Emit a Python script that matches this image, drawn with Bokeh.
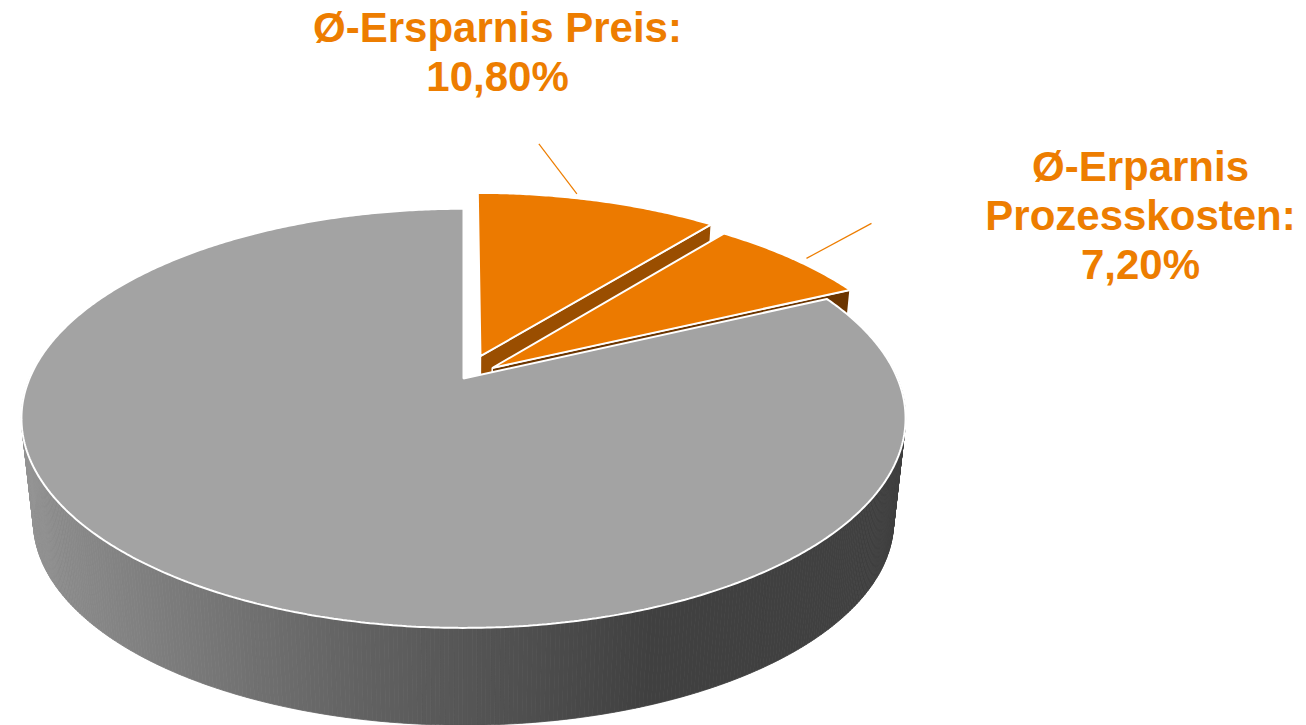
import numpy as np
from bokeh.plotting import figure
from bokeh.models import Range1d
from bokeh.core.properties import value
from bokeh.embed import file_html
from bokeh.resources import INLINE

# ---------------- data ----------------
categories = ["Ø-Ersparnis Preis", "Ø-Erparnis Prozesskosten", "Übrige"]
shares = [10.80, 7.20, 82.00]
label_titles = ["Ø-Ersparnis Preis:", "Ø-Erparnis\nProzesskosten:"]
labelled = [0, 1]

# ---------------- layout / style ----------------
W, H = 1306, 725
CX, CY = 463, 378
RX, RY, PERSP = 434, 202, 0.19
BOT_SCALE, DEPTH = 0.973, 104
EXPLODE = [0.12, 0.085, 0.0]
TOP_COLORS = ["#EC7A00", "#EC7A00", "#A3A3A3"]
FACE_COLORS = ["#9A4E00", "#6B3500", "#4A4A4A"]
ORANGE_WALL = "#6B3500"
WALL_X = [20, 60, 350, 650, 910]
WALL_SHADE = [150, 139, 99, 64, 64]
LABEL_POS = [(497, 27), (1140, 166)]
LINE_STEP = 49
LEADER_FRAC = [0.4, 0.55]
LEADER_R = 1.03
LEADER_OFF = [(-38, -50), (65, -35)]
TEXT_COLOR = "#ED7D00"
FONT_SIZE = "42px"


def proj(u, v, bottom=False):
    u = np.asarray(u, float)
    v = np.asarray(v, float)
    den = 1 - PERSP * v
    x = RX * u / den
    y = RY * v / den
    if bottom:
        x = x * BOT_SCALE
        y = y * BOT_SCALE + DEPTH
    return CX + x, CY + y


def gray_hex(c):
    c = int(round(c))
    return "#%02x%02x%02x" % (c, c, c)


def fmt(v):
    return ("%.2f" % v).replace(".", ",") + "%"


total = sum(shares)
bounds = np.concatenate([[0], np.cumsum(shares)]) / total * 2 * np.pi

p = figure(width=W, height=H, x_range=Range1d(0, W), y_range=Range1d(H, 0),
           output_backend="svg", toolbar_location=None, min_border=0)
p.axis.visible = False
p.grid.visible = False
p.outline_line_color = None
p.background_fill_color = "white"
p.border_fill_color = "white"

order = sorted(range(len(shares)),
               key=lambda i: -np.cos((bounds[i] + bounds[i + 1]) / 2))

offsets = {}
for i in order:
    t0, t1 = bounds[i], bounds[i + 1]
    tm = (t0 + t1) / 2
    du, dv = EXPLODE[i] * np.sin(tm), -EXPLODE[i] * np.cos(tm)
    offsets[i] = (du, dv)
    n = max(4, int(np.degrees(t1 - t0)) * 2)
    th = np.linspace(t0, t1, n)
    ru, rv = du + np.sin(th), dv - np.cos(th)

    # outer wall (only the front part)
    wx, wy, wc = [], [], []
    for j in range(n - 1):
        tmid = (th[j] + th[j + 1]) / 2
        if -np.cos(tmid) > -0.1:
            xt, yt = proj(ru[j:j + 2], rv[j:j + 2])
            xb, yb = proj(ru[j:j + 2], rv[j:j + 2], True)
            xs = [xt[0], xt[1], xb[1], xb[0]]
            ys = [yt[0], yt[1], yb[1], yb[0]]
            wx.append(xs)
            wy.append(ys)
            if TOP_COLORS[i] == "#A3A3A3":
                wc.append(gray_hex(np.interp(np.mean(xs), WALL_X, WALL_SHADE)))
            else:
                wc.append(ORANGE_WALL)
    if wx:
        p.patches(wx, wy, fill_color=wc, line_color=wc, line_width=0.8)

    # radial cut faces facing the viewer
    for edge_t, vis in ((t1, np.sin(t1) > 0.01), (t0, np.sin(t0) < -0.01)):
        if vis:
            eu, ev = du + np.sin(edge_t), dv - np.cos(edge_t)
            xt, yt = proj([du, eu], [dv, ev])
            xb, yb = proj([du, eu], [dv, ev], True)
            p.patch([xt[0], xt[1], xb[1], xb[0]], [yt[0], yt[1], yb[1], yb[0]],
                    fill_color=FACE_COLORS[i], line_color="white", line_width=1.5)

    # top face
    xt, yt = proj(np.r_[du, ru], np.r_[dv, rv])
    p.patch(list(xt), list(yt), fill_color=TOP_COLORS[i],
            line_color="white", line_width=2)

# leader lines and labels
tx, ty, tt = [], [], []
for k, i in enumerate(labelled):
    t0, t1 = bounds[i], bounds[i + 1]
    ta = t0 + LEADER_FRAC[k] * (t1 - t0)
    du, dv = offsets[i]
    ix, iy = proj(du + LEADER_R * np.sin(ta), dv - LEADER_R * np.cos(ta))
    ix, iy = float(ix), float(iy)
    p.line([ix, ix + LEADER_OFF[k][0]], [iy, iy + LEADER_OFF[k][1]],
           line_color=TEXT_COLOR, line_width=1.2)
    lines = label_titles[k].split("\n") + [fmt(shares[i])]
    for li, s in enumerate(lines):
        tx.append(LABEL_POS[k][0])
        ty.append(LABEL_POS[k][1] + li * LINE_STEP)
        tt.append(s)

p.text(x=tx, y=ty, text=tt, text_font=value("Liberation Sans"),
       text_font_style="bold", text_font_size=FONT_SIZE, text_color=TEXT_COLOR,
       text_align="center", text_baseline="alphabetic")

open("out.html", "w").write(file_html(p, INLINE))
